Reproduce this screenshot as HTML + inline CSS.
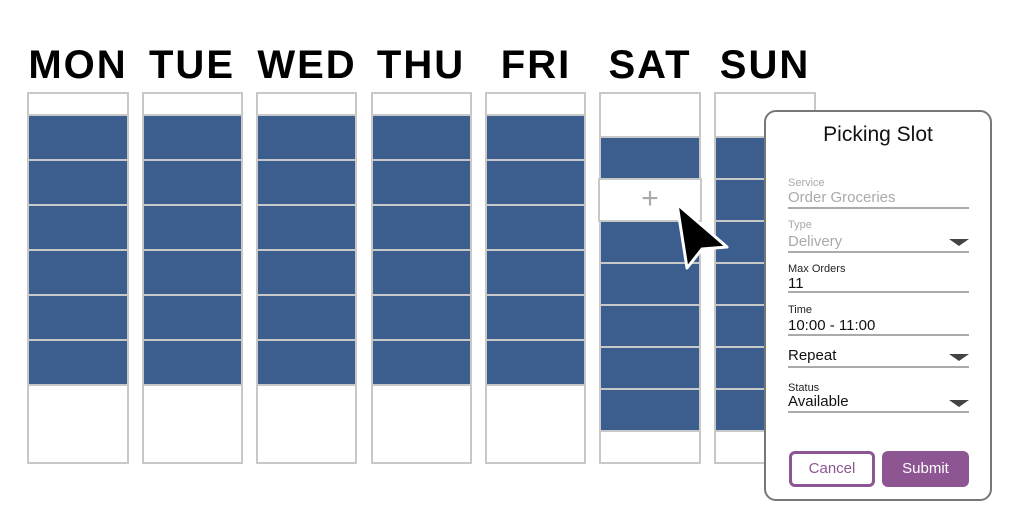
<!DOCTYPE html>
<html><head><style>
body{margin:0;width:1024px;height:531px;background:#fff;position:relative;overflow:hidden;font-family:"Liberation Sans",sans-serif}
.a{position:absolute}
.col{position:absolute;top:92px;height:372px;border:2px solid #c8c8c8;box-sizing:border-box;background:#fff}
.b{position:absolute;left:0;right:0;background:#3c5e8f;border-bottom:2px solid #c8c8c8;box-sizing:border-box}
.day{position:absolute;top:43px;font-size:40px;font-weight:bold;letter-spacing:2px;color:#000;text-align:center;width:124px}
.lbl{position:absolute;left:788px;font-size:11px;color:#222}
.val{position:absolute;left:788px;font-size:15px;color:#111}
.ln{position:absolute;left:788px;width:181px;height:2px;background:#aaa}
.tri{position:absolute;left:949px;width:0;height:0;border-left:10px solid transparent;border-right:10px solid transparent;border-top:7px solid #444}
</style></head><body>
<div class="day" style="left:16px">MON</div>
<div class="day" style="left:130px">TUE</div>
<div class="day" style="left:245px">WED</div>
<div class="day" style="left:359px">THU</div>
<div class="day" style="left:474px">FRI</div>
<div class="day" style="left:588px">SAT</div>
<div class="day" style="left:703px">SUN</div>

<div class="col" style="left:27px;width:102px">
<div class="b" style="top:20px;height:47px;border-top:2px solid #c8c8c8"></div><div class="b" style="top:67px;height:45px"></div><div class="b" style="top:112px;height:45px"></div><div class="b" style="top:157px;height:45px"></div><div class="b" style="top:202px;height:45px"></div><div class="b" style="top:247px;height:45px"></div></div>
<div class="col" style="left:142px;width:101px">
<div class="b" style="top:20px;height:47px;border-top:2px solid #c8c8c8"></div><div class="b" style="top:67px;height:45px"></div><div class="b" style="top:112px;height:45px"></div><div class="b" style="top:157px;height:45px"></div><div class="b" style="top:202px;height:45px"></div><div class="b" style="top:247px;height:45px"></div></div>
<div class="col" style="left:256px;width:101px">
<div class="b" style="top:20px;height:47px;border-top:2px solid #c8c8c8"></div><div class="b" style="top:67px;height:45px"></div><div class="b" style="top:112px;height:45px"></div><div class="b" style="top:157px;height:45px"></div><div class="b" style="top:202px;height:45px"></div><div class="b" style="top:247px;height:45px"></div></div>
<div class="col" style="left:371px;width:101px">
<div class="b" style="top:20px;height:47px;border-top:2px solid #c8c8c8"></div><div class="b" style="top:67px;height:45px"></div><div class="b" style="top:112px;height:45px"></div><div class="b" style="top:157px;height:45px"></div><div class="b" style="top:202px;height:45px"></div><div class="b" style="top:247px;height:45px"></div></div>
<div class="col" style="left:485px;width:101px">
<div class="b" style="top:20px;height:47px;border-top:2px solid #c8c8c8"></div><div class="b" style="top:67px;height:45px"></div><div class="b" style="top:112px;height:45px"></div><div class="b" style="top:157px;height:45px"></div><div class="b" style="top:202px;height:45px"></div><div class="b" style="top:247px;height:45px"></div></div>
<div class="col" style="left:599px;width:102px">
<div class="b" style="top:42px;height:44px;border-top:2px solid #c8c8c8"></div>
<div class="b" style="top:128px;height:42px"></div><div class="b" style="top:170px;height:42px"></div><div class="b" style="top:212px;height:42px"></div><div class="b" style="top:254px;height:42px"></div><div class="b" style="top:296px;height:42px"></div></div>
<div class="a" style="left:598px;top:178px;width:104px;height:44px;border:2px solid #c8c8c8;box-sizing:border-box;background:#fff;color:#aaa;font-size:30px;text-align:center;line-height:38px">+</div>
<div class="col" style="left:714px;width:102px">
<div class="b" style="top:42px;height:44px;border-top:2px solid #c8c8c8"></div><div class="b" style="top:86px;height:42px"></div>
<div class="b" style="top:128px;height:42px"></div><div class="b" style="top:170px;height:42px"></div><div class="b" style="top:212px;height:42px"></div><div class="b" style="top:254px;height:42px"></div><div class="b" style="top:296px;height:42px"></div></div>

<svg class="a" style="left:0;top:0" width="1024" height="531"><polygon points="677,204 687,268 702,249 727,247" fill="#000" stroke="#fff" stroke-width="3" stroke-linejoin="round"/></svg>

<div class="a" style="left:764px;top:110px;width:228px;height:391px;border:2px solid #777;border-radius:12px;box-sizing:border-box;background:#fff"></div>
<div class="a" style="left:764px;top:123px;width:228px;text-align:center;font-size:21px;color:#111">Picking Slot</div>
<div class="lbl" style="top:177px;color:#aaa">Service</div><div class="val" style="top:189px;color:#aaa">Order Groceries</div><div class="ln" style="top:207px"></div>
<div class="lbl" style="top:219px;color:#aaa">Type</div><div class="val" style="top:233px;color:#aaa">Delivery</div><div class="ln" style="top:251px"></div><div class="tri" style="top:239px"></div>
<div class="lbl" style="top:263px">Max Orders</div><div class="val" style="top:275px">11</div><div class="ln" style="top:291px"></div>
<div class="lbl" style="top:304px">Time</div><div class="val" style="top:317px">10:00 - 11:00</div><div class="ln" style="top:334px"></div>
<div class="val" style="top:347px">Repeat</div><div class="ln" style="top:366px"></div><div class="tri" style="top:354px"></div>
<div class="lbl" style="top:382px">Status</div><div class="val" style="top:393px">Available</div><div class="ln" style="top:411px"></div><div class="tri" style="top:400px"></div>
<div class="a" style="left:789px;top:451px;width:86px;height:36px;border:3px solid #8e5593;border-radius:6px;box-sizing:border-box;color:#8e5593;font-size:15px;text-align:center;line-height:30px">Cancel</div>
<div class="a" style="left:882px;top:451px;width:87px;height:36px;background:#8e5593;border-radius:6px;color:#fff;font-size:15px;text-align:center;line-height:36px">Submit</div>
</body></html>
